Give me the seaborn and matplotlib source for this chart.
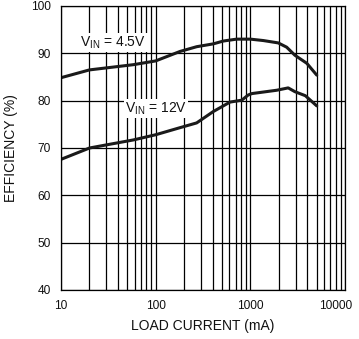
import matplotlib
matplotlib.use("Agg")
import matplotlib.pyplot as plt
import matplotlib.transforms as mtransforms
import seaborn as sns
import pandas as pd
from matplotlib.ticker import LogLocator, FixedLocator, NullFormatter

sns.set_theme(style="white")
plt.rcParams['font.family'] = ['Liberation Sans', 'DejaVu Sans']

# Data
load_45 = [10, 20, 58, 100, 181, 271, 406, 519, 717, 1000, 1372, 1972, 2420, 2955, 3947, 5030]
eff_45 = [84.85, 86.5, 87.6, 88.4, 90.4, 91.4, 92.0, 92.6, 93.0, 93.0, 92.7, 92.2, 91.3, 89.6, 87.9, 85.4]
load_12 = [10, 20, 58, 100, 181, 271, 406, 610, 811, 950, 1040, 1897, 2512, 2955, 3810, 5030]
eff_12 = [67.6, 70.0, 71.7, 72.8, 74.3, 75.3, 77.7, 79.7, 80.1, 81.2, 81.5, 82.2, 82.7, 81.9, 81.05, 78.9]
series_labels = ["V$_{\\mathregular{IN}}$ = 4.5V", "V$_{\\mathregular{IN}}$ = 12V"]
x_ticks = [10, 100, 1000, 10000]
y_ticks = [40, 50, 60, 70, 80, 90, 100]

df = pd.concat([
    pd.DataFrame({"load": load_45, "eff": eff_45, "vin": "4.5"}),
    pd.DataFrame({"load": load_12, "eff": eff_12, "vin": "12"}),
])

fig = plt.figure(figsize=(3.59, 3.39), dpi=100)
ax = fig.add_axes([61/359, 1 - 290/339, 284/359, 284/339])

ax.set_xscale("log")
ax.set_xlim(10, 10000)
ax.set_ylim(40, 100)

ax.xaxis.set_major_locator(FixedLocator(x_ticks))
ax.xaxis.set_minor_locator(LogLocator(base=10, subs=range(2, 10)))
ax.xaxis.set_minor_formatter(NullFormatter())
ax.set_xticks(x_ticks)
ax.set_xticklabels([str(v) for v in x_ticks])
ax.set_yticks(y_ticks)
ax.set_yticklabels([str(v) for v in y_ticks])

ax.grid(True, which="major", axis="both", color="black", linewidth=0.9)
ax.grid(True, which="minor", axis="x", color="black", linewidth=0.9)
ax.set_axisbelow(True)
for s in ax.spines.values():
    s.set_color("black")
    s.set_linewidth(0.9)
ax.tick_params(axis="both", which="both", length=0, labelsize=8.6, colors="#111111", pad=7.5)

# shift last x tick label slightly left as in the reference
lbl = ax.get_xticklabels()[-1]
lbl.set_transform(lbl.get_transform() + mtransforms.ScaledTranslation(-9/100, 0, fig.dpi_scale_trans))

sns.lineplot(data=df, x="load", y="eff", hue="vin", palette=["#1a1a1a", "#1a1a1a"],
             linewidth=2.2, legend=False, ax=ax, sort=False)

ax.set_xlabel("LOAD CURRENT (mA)", fontsize=10, color="#111111", labelpad=5)
ax.set_ylabel("EFFICIENCY (%)", fontsize=10, color="#111111", labelpad=9)

box = dict(facecolor="white", edgecolor="none", pad=1.0)
ax.text(16.0, 92.3, series_labels[0], fontsize=10, color="#111111", ha="left", va="center", bbox=box, zorder=3)
ax.text(47.5, 78.3, series_labels[1], fontsize=10, color="#111111", ha="left", va="center", bbox=box, zorder=3)

fig.savefig("out.png", dpi=100)
